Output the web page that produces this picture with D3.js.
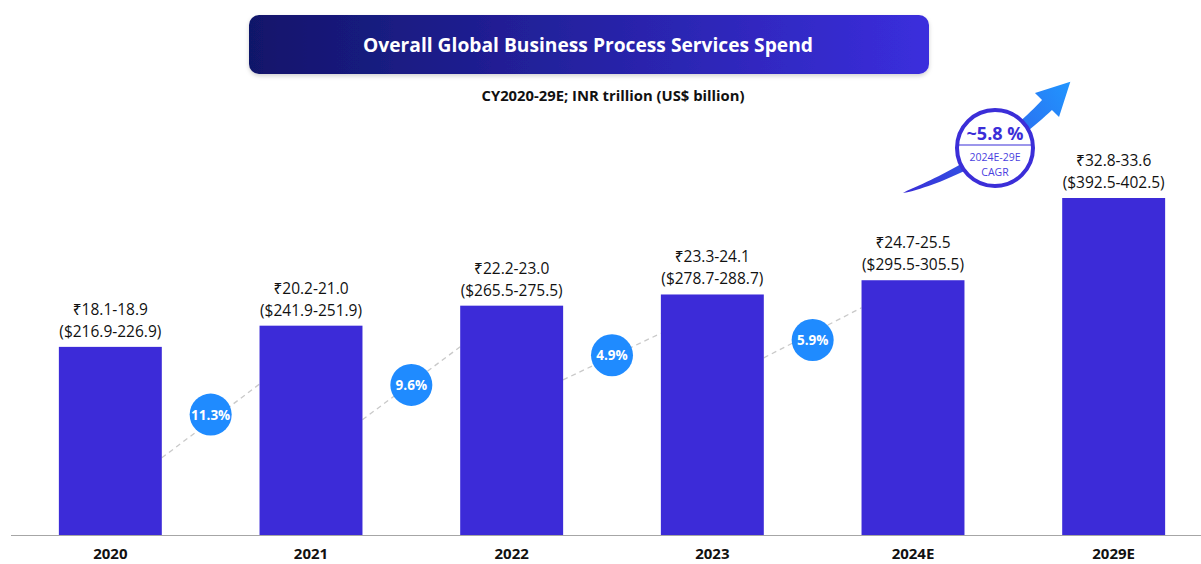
<!DOCTYPE html>
<meta charset="utf-8">
<style>
body { margin: 0; background: #fff; }
text { font-family: "Open Sans", "Noto Sans", "DejaVu Sans", sans-serif; }
</style>
<body>
<script src="https://d3js.org/d3.v7.min.js"></script>
<script>

// chart data
var years = ["2020", "2021", "2022", "2023", "2024E", "2029E"];
var inrLow = [18.1, 20.2, 22.2, 23.3, 24.7, 32.8];
var inrHigh = [18.9, 21.0, 23.0, 24.1, 25.5, 33.6];
var usdLow = [216.9, 241.9, 265.5, 278.7, 295.5, 392.5];
var usdHigh = [226.9, 251.9, 275.5, 288.7, 305.5, 402.5];

// year-on-year growth bubbles between bars (value units for the dashed trend pieces)
var growth = ["11.3%", "9.6%", "4.9%", "5.9%"];
var trendFrom = [91, 136, 183, 209];
var trendTo = [178, 222, 238, 268];
var bubbleAt = [142, 177, 212, 230];

var cagr = "~5.8 %", cagrPeriod = "2024E-29E", cagrLabel = "CAGR";
var title = "Overall Global Business Process Services Spend";
var subtitle = "CY2020-29E; INR trillion (US$ billion)";

var W = 1201, H = 564;
var barColor = "#3c2bd8";

var svg = d3.select("body").append("svg")
    .attr("width", W)
    .attr("height", H);

var defs = svg.append("defs");

var tg = defs.append("linearGradient").attr("id", "titleGrad");
tg.append("stop").attr("offset", "0%").attr("stop-color", "#11166a");
tg.append("stop").attr("offset", "100%").attr("stop-color", "#3b2edd");

var ag = defs.append("linearGradient").attr("id", "arrowGrad")
    .attr("gradientUnits", "userSpaceOnUse")
    .attr("x1", 903).attr("y1", 193).attr("x2", 1070).attr("y2", 80);
ag.append("stop").attr("offset", "0%").attr("stop-color", "#3a2dd6");
ag.append("stop").attr("offset", "100%").attr("stop-color", "#2196ff");

var sh = defs.append("filter").attr("id", "shadow")
    .attr("x", "-5%").attr("y", "-20%").attr("width", "110%").attr("height", "150%");
sh.append("feDropShadow").attr("dx", 0).attr("dy", 2).attr("stdDeviation", 2)
    .attr("flood-color", "#000").attr("flood-opacity", 0.18);

// scales
var x = d3.scaleBand()
    .domain(years)
    .range([10, 1214])
    .paddingInner(0.487)
    .paddingOuter(0.2435);

var y = d3.scaleLinear()
    .domain([0, 400])
    .range([535, 535 - 400 * 0.8478]);

var mid = years.map(function(d, i) { return (usdLow[i] + usdHigh[i]) / 2; });

// title box
svg.append("rect")
    .attr("x", 249).attr("y", 15)
    .attr("width", 680).attr("height", 59)
    .attr("rx", 10)
    .attr("fill", "url(#titleGrad)")
    .attr("filter", "url(#shadow)");

svg.append("text")
    .attr("x", 588).attr("y", 52)
    .attr("text-anchor", "middle")
    .attr("fill", "#fff")
    .attr("font-size", 19)
    .attr("font-weight", 700)
    .attr("textLength", 450)
    .attr("lengthAdjust", "spacingAndGlyphs")
    .text(title);

svg.append("text")
    .attr("x", 613).attr("y", 101)
    .attr("text-anchor", "middle")
    .attr("fill", "#111")
    .attr("font-size", 14)
    .attr("font-weight", 700)
    .attr("textLength", 263)
    .attr("lengthAdjust", "spacingAndGlyphs")
    .text(subtitle);

// dashed trend pieces in the gaps
var gaps = growth.map(function(g, i) {
  return {
    x0: x(years[i]) + x.bandwidth(),
    x1: x(years[i + 1]),
    v0: trendFrom[i],
    v1: trendTo[i],
    vb: bubbleAt[i],
    label: g
  };
});

svg.selectAll(".trend")
    .data(gaps)
  .enter().append("line")
    .attr("class", "trend")
    .attr("x1", function(d) { return d.x0; })
    .attr("y1", function(d) { return y(d.v0); })
    .attr("x2", function(d) { return d.x1; })
    .attr("y2", function(d) { return y(d.v1); })
    .attr("stroke", "#c9c9c9")
    .attr("stroke-width", 1.3)
    .attr("stroke-dasharray", "5,4");

// bars
svg.selectAll(".bar")
    .data(years)
  .enter().append("rect")
    .attr("class", "bar")
    .attr("x", function(d) { return x(d); })
    .attr("y", function(d, i) { return y(mid[i]); })
    .attr("width", x.bandwidth())
    .attr("height", function(d, i) { return y(0) - y(mid[i]); })
    .attr("fill", barColor);

// baseline
svg.append("line")
    .attr("x1", 11).attr("x2", W)
    .attr("y1", y(0) + 0.5).attr("y2", y(0) + 0.5)
    .attr("stroke", "#a6a6a6")
    .attr("stroke-width", 1.2);

// year labels
svg.selectAll(".year")
    .data(years)
  .enter().append("text")
    .attr("class", "year")
    .attr("x", function(d) { return x(d) + x.bandwidth() / 2; })
    .attr("y", 559)
    .attr("text-anchor", "middle")
    .attr("font-size", 15)
    .attr("font-weight", 700)
    .attr("fill", "#111")
    .text(function(d) { return d; });

// value labels
var lab = svg.selectAll(".val")
    .data(years)
  .enter().append("g")
    .attr("class", "val")
    .attr("transform", function(d, i) {
      return "translate(" + (x(d) + x.bandwidth() / 2) + "," + y(mid[i]) + ")";
    });

lab.append("text")
    .attr("y", -32)
    .attr("text-anchor", "middle")
    .attr("font-size", 15.5)
    .attr("fill", "#111")
    .text(function(d, i) { return "₹" + inrLow[i].toFixed(1) + "-" + inrHigh[i].toFixed(1); });

lab.append("text")
    .attr("y", -10)
    .attr("text-anchor", "middle")
    .attr("font-size", 15.5)
    .attr("fill", "#111")
    .text(function(d, i) { return "($" + usdLow[i].toFixed(1) + "-" + usdHigh[i].toFixed(1) + ")"; });

// growth bubbles
var bub = svg.selectAll(".bubble")
    .data(gaps)
  .enter().append("g")
    .attr("class", "bubble")
    .attr("transform", function(d) {
      return "translate(" + ((d.x0 + d.x1) / 2) + "," + y(d.vb) + ")";
    });

bub.append("circle")
    .attr("r", 21)
    .attr("fill", "#1f8bff");

bub.append("text")
    .attr("y", 5)
    .attr("text-anchor", "middle")
    .attr("font-size", 13.5)
    .attr("font-weight", 700)
    .attr("fill", "#fff")
    .text(function(d) { return d.label; });

// CAGR arrow: curved shaft that thickens towards the head
var P0 = [903, 193], C = [987, 165], P1 = [1047, 105];
function bez(t) {
  var u = 1 - t;
  return [u * u * P0[0] + 2 * u * t * C[0] + t * t * P1[0],
          u * u * P0[1] + 2 * u * t * C[1] + t * t * P1[1]];
}
function tan(t) {
  var dx = 2 * (1 - t) * (C[0] - P0[0]) + 2 * t * (P1[0] - C[0]);
  var dy = 2 * (1 - t) * (C[1] - P0[1]) + 2 * t * (P1[1] - C[1]);
  var l = Math.sqrt(dx * dx + dy * dy);
  return [dx / l, dy / l];
}
var left = [], right = [];
d3.range(0, 1.0001, 1 / 40).forEach(function(t) {
  var p = bez(t), d = tan(t), n = [-d[1], d[0]];
  var w = 7 * Math.pow(t, 0.6);
  left.push([p[0] + n[0] * w, p[1] + n[1] * w]);
  right.push([p[0] - n[0] * w, p[1] - n[1] * w]);
});
var dEnd = tan(1), nEnd = [-dEnd[1], dEnd[0]];
var head = [
  [P1[0] - nEnd[0] * 17, P1[1] - nEnd[1] * 17],
  [P1[0] + dEnd[0] * 33, P1[1] + dEnd[1] * 33],
  [P1[0] + nEnd[0] * 17, P1[1] + nEnd[1] * 17]
];
var pts = right.concat(head).concat(left.slice().reverse());

svg.append("path")
    .attr("d", d3.line()(pts) + "Z")
    .attr("fill", "url(#arrowGrad)");

// CAGR badge
var badge = svg.append("g").attr("transform", "translate(995,148)");
badge.append("circle")
    .attr("r", 38)
    .attr("fill", "#fff")
    .attr("stroke", "#3b2ed8")
    .attr("stroke-width", 4);
badge.append("line")
    .attr("x1", -36).attr("x2", 36)
    .attr("y1", -3).attr("y2", -3)
    .attr("stroke", "#3b2ed8")
    .attr("stroke-width", 1.2);
badge.append("text")
    .attr("y", -8)
    .attr("text-anchor", "middle")
    .attr("font-size", 18)
    .attr("font-weight", 700)
    .attr("fill", "#3b2ed8")
    .text(cagr);
badge.append("text")
    .attr("y", 13)
    .attr("text-anchor", "middle")
    .attr("font-size", 10.5)
    .attr("fill", "#4a3fe0")
    .text(cagrPeriod);
badge.append("text")
    .attr("y", 28)
    .attr("text-anchor", "middle")
    .attr("font-size", 10.5)
    .attr("fill", "#4a3fe0")
    .text(cagrLabel);

</script>
</body>
